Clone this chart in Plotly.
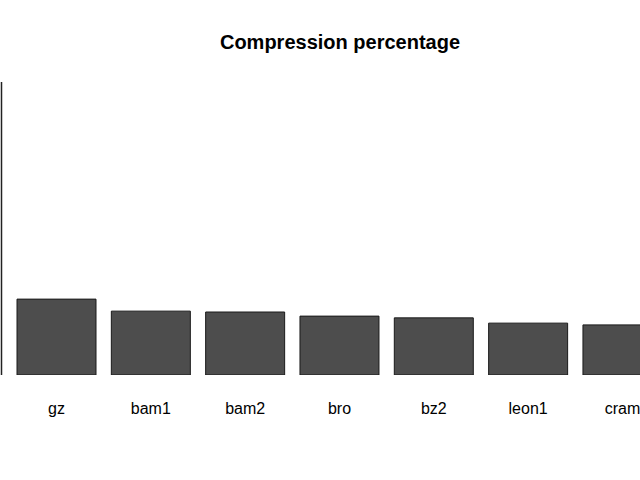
import plotly.graph_objects as go

categories = ["gz", "bam1", "bam2", "bro", "bz2", "leon1", "cram"]
values = [25.9, 21.8, 21.5, 20.1, 19.5, 17.7, 17.1]

fig = go.Figure()
fig.add_trace(go.Bar(
    x=categories, y=values,
    marker=dict(color="#4D4D4D", line=dict(color="#1a1a1a", width=1)),
))

fig.update_layout(
    width=640, height=480,
    paper_bgcolor="white", plot_bgcolor="white",
    margin=dict(l=0, r=0, t=82, b=105, autoexpand=False),
    bargap=0.1625,
    showlegend=False,
    font=dict(family="Liberation Sans, Arial, sans-serif", color="black"),
    title=dict(text="<b>Compression percentage</b>", x=340/640, xref="paper",
               xanchor="center", y=1 - 42/480, yref="container",
               yanchor="middle", font=dict(size=20, color="black")),
    xaxis=dict(range=[-0.599, 6.186], showgrid=False, zeroline=False, showline=False,
               ticks="", tickfont=dict(size=16, color="black"), automargin=False,
               ticklabelstandoff=22),
    yaxis=dict(range=[0, 100], showgrid=False, zeroline=False, showline=False,
               showticklabels=False, ticks="", automargin=False),
    shapes=[dict(type="line", xref="paper", yref="y", x0=1.5/640, x1=1.5/640,
                 y0=0, y1=100, line=dict(color="#222222", width=1.5))],
)

fig.write_html("out.html", config={"displayModeBar": False},
               post_script="document.body.style.margin='0';document.body.style.overflow='hidden';")
